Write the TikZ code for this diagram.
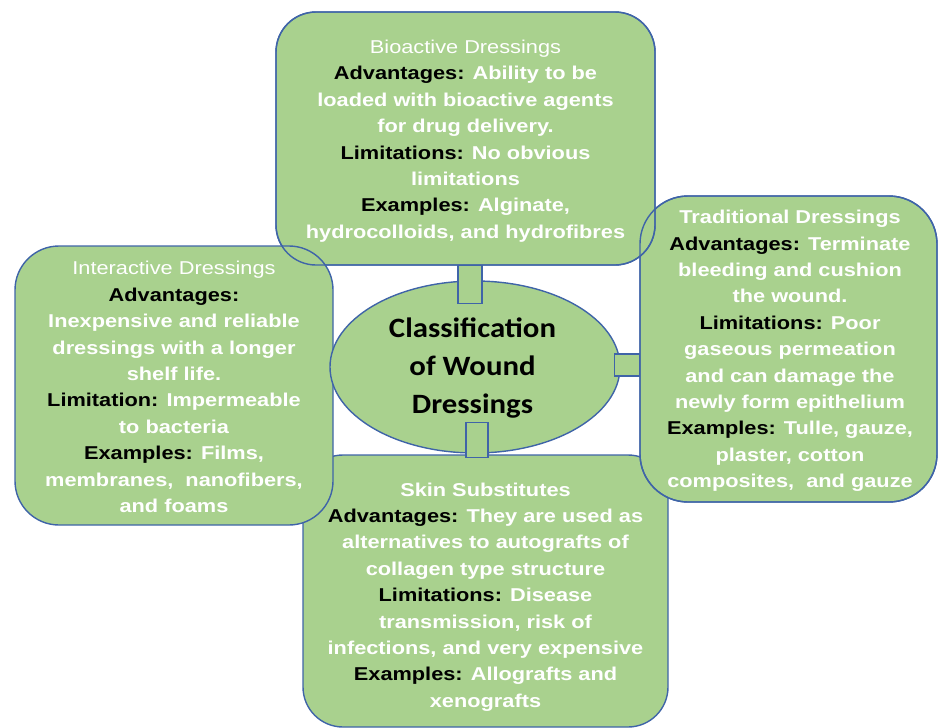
\documentclass[tikz,border=0pt]{standalone}
\usepackage{fontspec}
\setmainfont{Liberation Sans}[FakeStretch=1.17]
\newfontfamily\calib{Carlito}[FakeStretch=1.1]
\usetikzlibrary{calc,shapes.geometric}
\definecolor{boxfill}{HTML}{A9D18E}
\definecolor{boxline}{HTML}{3F64A8}
\newcommand{\W}[1]{\textcolor{white}{#1}}
\begin{document}
\begin{tikzpicture}[x=1pt,y=-1pt,
  card/.style={draw=boxline, line width=1.4pt, fill=boxfill, rectangle, inner sep=0pt},
  outline/.style={draw=boxline, line width=1.4pt, rectangle, inner sep=0pt},
  conn/.style={draw=boxline, line width=1.4pt, fill=boxfill},
  txt/.style={align=center, inner sep=0pt, text=black, font=\bfseries\fontsize{18.6}{26.4}\selectfont}]
\useasboundingbox (0,0) rectangle (938,728);
\fill[white] (0,0) rectangle (938,728);
% boxes
\node[card, rounded corners=40pt, minimum width=365pt, minimum height=272pt] (skin) at (485.5,591) {};
\node[card, rounded corners=48pt, minimum width=297pt, minimum height=306pt] (trad) at (788.5,349) {};
\node[card, rounded corners=40pt, minimum width=379pt, minimum height=253pt] (bio) at (465.5,138.5) {};
\node[card, rounded corners=44pt, minimum width=318pt, minimum height=279pt] (inter) at (174,385.5) {};
% outlines that show through where the top cards overlap
\node[outline, rounded corners=48pt, minimum width=297pt, minimum height=306pt] (tradO) at (trad) {};
\node[outline, rounded corners=40pt, minimum width=379pt, minimum height=253pt] (bioO) at (bio) {};
% central ellipse
\node[ellipse, draw=boxline, line width=1.4pt, fill=boxfill, minimum width=290pt, minimum height=172pt, inner sep=0pt] (cls) at (475,367) {};
% connectors
\draw[conn] ($(bio.south)+(-7.5,0)$) rectangle ($(bio.south)+(16.5,38)$);
\draw[conn] ($(skin.north)+(-19.5,-32)$) rectangle ($(skin.north)+(2.5,3)$);
\draw[conn] ($(trad.west)+(-25,5)$) rectangle ($(trad.west)+(0,27)$);
% texts
\node[align=center, inner sep=0pt, font=\calib\bfseries\fontsize{28}{38}\selectfont] (clsT) at (472.5,368) {Classification\\of Wound\\Dressings};
\node[txt] (bioT) at (465.5,141) {\W{\mdseries Bioactive Dressings}\\
Advantages: \W{Ability to be}\\
\W{loaded with bioactive agents}\\
\W{for drug delivery.}\\
Limitations: \W{No obvious}\\
\W{limitations}\\
Examples: \W{Alginate,}\\
\W{hydrocolloids, and hydrofibres}};
\node[txt] (interT) at (174,387) {\W{\mdseries Interactive Dressings}\\
Advantages:\\
\W{Inexpensive and reliable}\\
\W{dressings with a longer}\\
\W{shelf life.}\\
Limitation: \W{Impermeable}\\
\W{to bacteria}\\
Examples: \W{Films,}\\
\W{membranes,\ \ nanofibers,}\\
\W{and foams}};
\node[txt] (tradT) at (790,351) {\W{Traditional Dressings}\\
Advantages: \W{Terminate}\\
\W{bleeding and cushion}\\
\W{the wound.}\\
Limitations: \W{Poor}\\
\W{gaseous permeation}\\
\W{and can damage the}\\
\W{newly form epithelium}\\
Examples: \W{Tulle, gauze,}\\
\W{plaster, cotton}\\
\W{composites,\ \ and gauze}};
\node[txt] (skinT) at (485.5,597) {\W{Skin Substitutes}\\
Advantages: \W{They are used as}\\
\W{alternatives to autografts of}\\
\W{collagen type structure}\\
Limitations: \W{Disease}\\
\W{transmission, risk of}\\
\W{infections, and very expensive}\\
Examples: \W{Allografts and}\\
\W{xenografts}};
\end{tikzpicture}
\end{document}
